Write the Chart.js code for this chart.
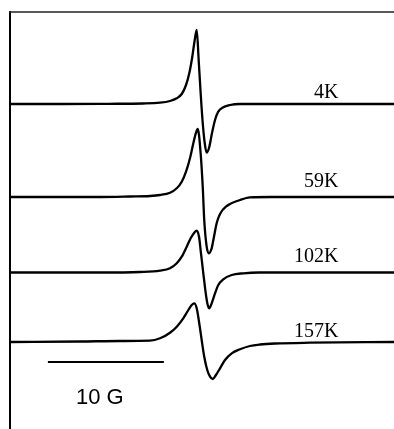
<!DOCTYPE html>
<html>
<head>
<meta charset="utf-8">
<script src="https://cdn.jsdelivr.net/npm/chart.js@4/dist/chart.umd.min.js"></script>
<style>
  html, body { margin: 0; padding: 0; background: #fff; }
  canvas { display: block; }
</style>
</head>
<body>
<canvas id="epr" width="394" height="429"></canvas>
<script>
// EPR first-derivative spectra at four temperatures.
// Field axis: offset from resonance centre, in gauss. Intensity: arbitrary units.
const temperatures = ['4K', '59K', '102K', '157K'];

const field4K   = [-16.4, -12, -8, -5, -3.53, -2.67, -2.09, -1.66, -1.29, -1.01, -0.75, -0.54, -0.37, -0.2, -0.03, 0.15, 0.32, 0.49, 0.72, 0.95, 1.21, 1.49, 1.92, 2.5, 3.36, 5, 9, 16.7];
const signal4K  = [0, 0, 0.2, 0.5, 1.3, 3, 5.7, 10, 19, 30.7, 47.3, 64, 74, 44, 11, -19, -39, -48.7, -42.7, -29, -16, -7.7, -3.3, -1, 0, 0, 0, 0];

const field59K  = [-16.4, -8.7, -6.1, -4.4, -3.53, -2.67, -2.09, -1.66, -1.29, -0.95, -0.66, -0.43, -0.28, -0.03, 0.15, 0.28, 0.49, 0.66, 0.92, 1.12, 1.35, 1.64, 2.22, 3.36, 4.22, 6, 16.7];
const signal59K = [0, 0, 0.5, 1, 2, 4.3, 8.7, 15.3, 25.3, 38.7, 53.7, 64.3, 68, 43.7, 10.3, -23, -49.7, -56.3, -51.3, -39.7, -26.3, -17, -9, -3, -0.3, 0, 0];

const field102K  = [-16.4, -8.7, -5.26, -3.53, -2.67, -2.09, -1.66, -1.23, -0.89, -0.58, -0.37, -0.17, 0, 0.2, 0.41, 0.58, 0.72, 0.92, 1.21, 1.49, 1.92, 2.65, 3.65, 5, 16.7];
const signal102K = [0, 0, 0.5, 1.8, 4.2, 9.2, 15.8, 25.8, 34.2, 39.8, 41.8, 35.8, 19.2, -0.8, -20.8, -32.5, -35.8, -30.8, -20.8, -12.5, -6.8, -2.5, -0.8, 0, 0];

const field157K  = [-16.4, -10.4, -6.98, -4.4, -3.53, -2.67, -2.09, -1.53, -1.09, -0.8, -0.58, -0.37, -0.17, 0.06, 0.28, 0.54, 0.78, 1.01, 1.29, 1.64, 2.07, 2.65, 3.36, 4.22, 5.09, 6.38, 9.4, 16.7];
const signal157K = [0, 0.5, 1, 1.3, 3.7, 9.3, 15.3, 23.7, 32, 37, 38.7, 33.7, 20.3, 2, -14.7, -28, -34.7, -37, -33, -26.3, -18, -11.3, -7.3, -4, -2.5, -1.5, -0.7, 0];

// Vertical stacking of the traces (baseline of each spectrum)
const baselines = [325, 232, 156.5, 87];

// 10 G scale bar (field span) and its caption
const scaleBarField = [-13.2, -3.2];
const scaleBarLabel = '10 G';

// ---- layout / style ----
const FIELD_MIN = -16.38, FIELD_MAX = 16.64;
const Y_MIN = 0, Y_MAX = 417;
const LABEL_RIGHT_FIELD = 11.85;
const LABEL_RAISE = [6.5, 10, 10.5, 5];
const SCALE_BAR_Y = 67;
const SCALE_TEXT_FIELD = -10.78, SCALE_TEXT_Y = 25;
const TRACE_WIDTH = 2.3;

const fields  = [field4K, field59K, field102K, field157K];
const signals = [signal4K, signal59K, signal102K, signal157K];

const traceSets = temperatures.map((t, i) => ({
  label: t,
  data: fields[i].map((b, k) => ({ x: b, y: signals[i][k] + baselines[i] })),
  borderColor: '#000',
  borderWidth: TRACE_WIDTH,
  pointRadius: 0,
  cubicInterpolationMode: 'monotone',
  fill: false
}));

const scaleBarSet = {
  label: 'scale',
  data: scaleBarField.map(b => ({ x: b, y: SCALE_BAR_Y })),
  borderColor: '#000',
  borderWidth: 2,
  pointRadius: 0,
  fill: false
};

// Frame (left and top edges) plus temperature labels and scale caption
const annotate = {
  id: 'annotate',
  beforeDatasetsDraw(chart) {
    const { ctx, chartArea: a } = chart;
    ctx.save();
    ctx.strokeStyle = '#000';
    ctx.lineWidth = 2;
    ctx.beginPath();
    ctx.moveTo(a.left - 1, a.top - 1);
    ctx.lineTo(a.left - 1, a.bottom);
    ctx.stroke();
    ctx.lineWidth = 1.5;
    ctx.strokeStyle = '#222';
    ctx.beginPath();
    ctx.moveTo(a.left - 2, a.top);
    ctx.lineTo(a.right, a.top);
    ctx.stroke();
    ctx.restore();
  },
  afterDatasetsDraw(chart) {
    const { ctx, scales: { x, y } } = chart;
    ctx.save();
    ctx.fillStyle = '#000';
    ctx.font = '20px "Liberation Serif", "Times New Roman", serif';
    ctx.textAlign = 'right';
    ctx.textBaseline = 'alphabetic';
    temperatures.forEach((t, i) => {
      ctx.fillText(t, x.getPixelForValue(LABEL_RIGHT_FIELD), y.getPixelForValue(baselines[i] + LABEL_RAISE[i]));
    });
    ctx.font = '22px "Liberation Sans", Arial, sans-serif';
    ctx.textAlign = 'left';
    ctx.fillText(scaleBarLabel, x.getPixelForValue(SCALE_TEXT_FIELD), y.getPixelForValue(SCALE_TEXT_Y));
    ctx.restore();
  }
};

new Chart(document.getElementById('epr'), {
  type: 'line',
  data: { datasets: [...traceSets, scaleBarSet] },
  options: {
    responsive: false,
    animation: false,
    layout: { padding: { left: 11, top: 12, right: 0, bottom: 0 } },
    scales: {
      x: { type: 'linear', display: false, min: FIELD_MIN, max: FIELD_MAX },
      y: { type: 'linear', display: false, min: Y_MIN, max: Y_MAX }
    },
    plugins: { legend: { display: false }, tooltip: { enabled: false } }
  },
  plugins: [annotate]
});
</script>
</body>
</html>
